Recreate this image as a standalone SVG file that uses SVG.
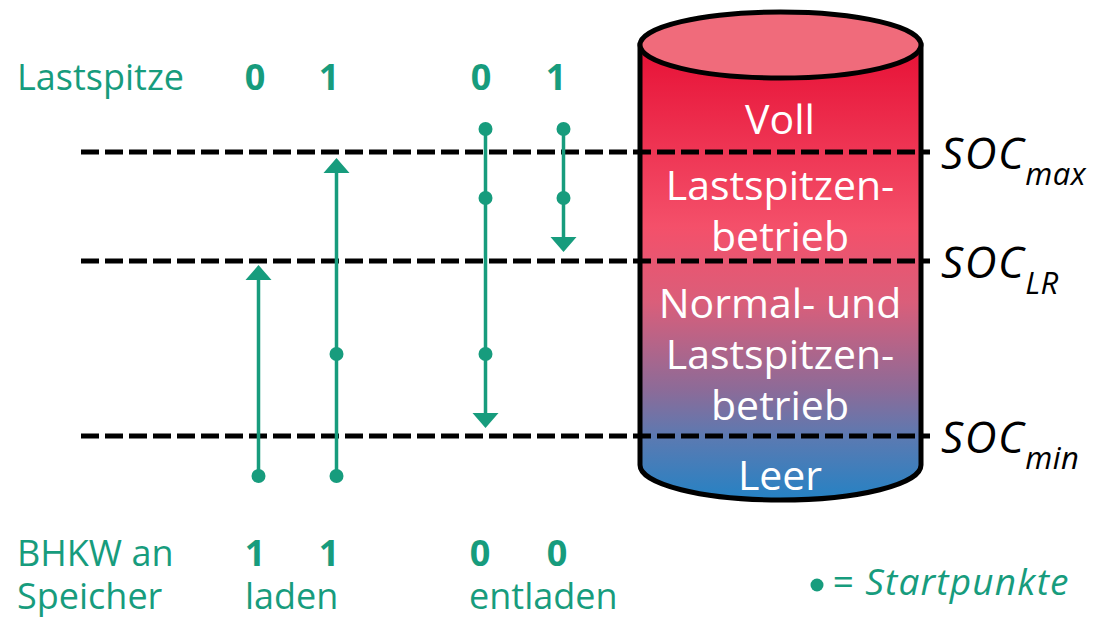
<svg xmlns="http://www.w3.org/2000/svg" width="1095" height="617" viewBox="0 0 1095 617">
  <style>
    .lbl { font-family: "Open Sans", "Liberation Sans", sans-serif; font-size: 36px; fill: #179C7D; }
    .num { font-family: "Open Sans", "Liberation Sans", sans-serif; font-size: 36px; font-weight: bold; fill: #179C7D; text-anchor: middle; }
    .zone { font-family: "Open Sans", "Liberation Sans", sans-serif; font-size: 41px; fill: #FFFFFF; text-anchor: middle; }
    .soc { font-family: "Open Sans", "Liberation Sans", sans-serif; font-style: italic; font-size: 44px; letter-spacing: 1.5px; fill: #000000; }
    .sub { font-size: 31px; letter-spacing: 0.5px; }
    .key { font-family: "Open Sans", "Liberation Sans", sans-serif; font-style: italic; font-size: 37px; letter-spacing: 1.2px; fill: #179C7D; }
    .level { stroke: #000000; stroke-width: 5; stroke-dasharray: 18 6; fill: none; }
    .flow { stroke: #179C7D; stroke-width: 3.5; fill: none; }
    .dot { fill: #179C7D; }
    .head { fill: #179C7D; }
  </style>
  <defs>
    <linearGradient id="charge" gradientUnits="userSpaceOnUse" x1="0" y1="60" x2="0" y2="500">
      <stop offset="0" stop-color="#E8163A"/>
      <stop offset="0.38" stop-color="#F4506A"/>
      <stop offset="0.55" stop-color="#DA5E7A"/>
      <stop offset="0.75" stop-color="#8C6B98"/>
      <stop offset="0.86" stop-color="#5A7AB2"/>
      <stop offset="1" stop-color="#2582C4"/>
    </linearGradient>
  </defs>

  <!-- storage tank -->
  <g id="speicher">
    <path d="M640,45 L640,465 A140.5,35 0 0 0 921,465 L921,45 Z" fill="url(#charge)" stroke="#000000" stroke-width="5"/>
    <ellipse cx="780.5" cy="45" rx="140.5" ry="33" fill="#F06B7B" stroke="#000000" stroke-width="5"/>
    <text class="zone" x="780" y="134">Voll</text>
    <text class="zone" x="780" y="200">Lastspitzen-</text>
    <text class="zone" x="780" y="251">betrieb</text>
    <text class="zone" x="780" y="318">Normal- und</text>
    <text class="zone" x="780" y="369">Lastspitzen-</text>
    <text class="zone" x="780" y="420">betrieb</text>
    <text class="zone" x="780" y="490">Leer</text>
  </g>

  <!-- state-of-charge thresholds -->
  <g id="grenzen">
    <line class="level" x1="81" y1="152" x2="930" y2="152"/>
    <line class="level" x1="81" y1="261" x2="930" y2="261"/>
    <line class="level" x1="81" y1="436" x2="930" y2="436"/>
    <text class="soc" x="941" y="169">SOC<tspan class="sub" dy="16">max</tspan></text>
    <text class="soc" x="941" y="278">SOC<tspan class="sub" dy="16">LR</tspan></text>
    <text class="soc" x="941" y="453">SOC<tspan class="sub" dy="16">min</tspan></text>
  </g>

  <!-- charge / discharge paths -->
  <g id="verbindungen">
    <line class="flow" x1="258.5" y1="476" x2="258.5" y2="279"/>
    <polygon class="head" points="258.5,265 245.5,280 271.5,280"/>
    <circle class="dot" cx="258.5" cy="476" r="7"/>

    <line class="flow" x1="336.5" y1="476" x2="336.5" y2="172"/>
    <polygon class="head" points="336.5,158 323.5,173 349.5,173"/>
    <circle class="dot" cx="336.5" cy="476" r="7"/>
    <circle class="dot" cx="336.5" cy="354" r="7"/>

    <line class="flow" x1="485.5" y1="129" x2="485.5" y2="414"/>
    <polygon class="head" points="485.5,428 472.5,413 498.5,413"/>
    <circle class="dot" cx="485.5" cy="129" r="7"/>
    <circle class="dot" cx="485.5" cy="198" r="7"/>
    <circle class="dot" cx="485.5" cy="354" r="7"/>

    <line class="flow" x1="563.5" y1="129" x2="563.5" y2="238"/>
    <polygon class="head" points="563.5,252 550.5,237 576.5,237"/>
    <circle class="dot" cx="563.5" cy="129" r="7"/>
    <circle class="dot" cx="563.5" cy="198" r="7"/>
  </g>

  <!-- top row: peak-load flag -->
  <g id="lastspitze">
    <text class="lbl" x="17" y="90">Lastspitze</text>
    <text class="num" x="255" y="90">0</text>
    <text class="num" x="329" y="90">1</text>
    <text class="num" x="481" y="90">0</text>
    <text class="num" x="556" y="90">1</text>
  </g>

  <!-- bottom row: CHP to storage -->
  <g id="bhkw">
    <text class="lbl" x="17" y="566">BHKW an</text>
    <text class="lbl" x="17" y="609">Speicher</text>
    <text class="num" x="255" y="566">1</text>
    <text class="num" x="329" y="566">1</text>
    <text class="num" x="480" y="566">0</text>
    <text class="num" x="557" y="566">0</text>
    <text class="lbl" x="245" y="609">laden</text>
    <text class="lbl" x="469" y="609">entladen</text>
  </g>

  <!-- legend -->
  <g id="legende">
    <circle class="dot" cx="817" cy="585" r="6.5"/>
    <text class="key" x="832" y="595">= Startpunkte</text>
  </g>
</svg>
